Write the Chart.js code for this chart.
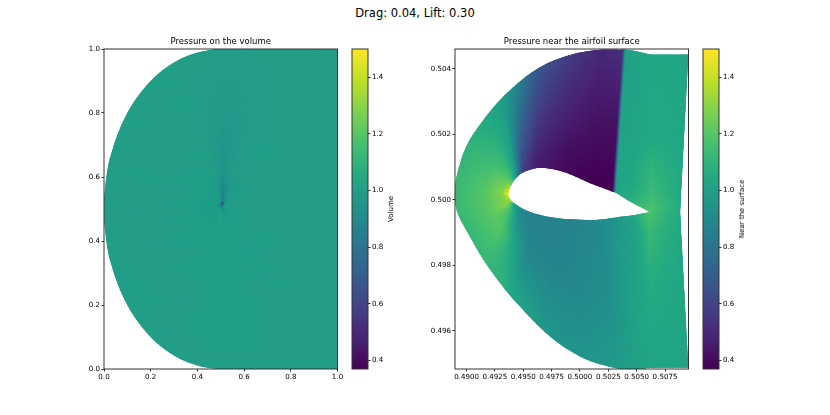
<!DOCTYPE html>
<html>
<head>
<meta charset="utf-8">
<script src="https://cdn.jsdelivr.net/npm/chart.js@4"></script>
<style>
  body { margin: 0; background: #fff; width: 830px; height: 415px; overflow: hidden; font-family: "DejaVu Sans", sans-serif; color: #000; }
  canvas { position: absolute; }
  .txt { position: absolute; white-space: nowrap; }
  #suptitle { left: 0; width: 830px; top: 6px; text-align: center; font-size: 11.5px; }
  .cbLabel { font-size: 7px; transform: translate(-50%, -50%) rotate(-90deg); }
</style>
</head>
<body>
<div id="suptitle" class="txt">Drag: 0.04, Lift: 0.30</div>
<canvas id="volumeChart" width="290" height="365" style="left:60px;top:30px"></canvas>
<canvas id="volumeBar" width="50" height="365" style="left:345px;top:30px"></canvas>
<div class="txt cbLabel" style="left:391px;top:209px">Volume</div>
<canvas id="nearChart" width="290" height="365" style="left:411px;top:30px"></canvas>
<canvas id="nearBar" width="50" height="365" style="left:696px;top:30px"></canvas>
<div class="txt cbLabel" style="left:742px;top:209px">Near the surface</div>

<script>
// colour range and viridis stops
const pMin = 0.37;
const pMax = 1.5;
const viridis = ['#440154', '#482475', '#414487', '#355f8d', '#2a788e', '#21918c', '#22a884', '#44bf70', '#7ad151', '#bddf26', '#fde725'];
const barTicks = [0.4, 0.6, 0.8, 1.0, 1.2, 1.4];

// left panel: fan of stations from the airfoil out to the domain edge
const volXTicks = [0, 0.2, 0.4, 0.6, 0.8, 1];
const volYTicks = [0, 0.2, 0.4, 0.6, 0.8, 1];
const volLevels = [0, 0.01, 0.04, 0.2, 1];
const volInnerX = 0.502;
const volInnerY = 0.508;
const volOuterX = [1, 1, 1, 0.75, 0.6, 0.51, 0.46, 0.355, 0.269, 0.197, 0.124, 0.069, 0.0257, 0.0116, 0.002, 0, 0.002, 0.0116, 0.0257, 0.069, 0.124, 0.197, 0.269, 0.355, 0.46, 0.6, 0.75, 1, 1, 1];
const volOuterY = [0.5, 0.75, 1, 1, 1, 1, 0.998, 0.978, 0.943, 0.898, 0.83, 0.753, 0.66, 0.607, 0.545, 0.5, 0.455, 0.393, 0.34, 0.247, 0.17, 0.102, 0.057, 0.022, 0.002, 0, 0, 0, 0.25, 0.5];
const volP0 = [0.75, 0.75, 0.65, 0.55, 0.42, 0.4, 0.42, 0.55, 0.65, 0.75, 0.8, 0.85, 0.9, 0.9, 0.95, 1, 1, 1.02, 1.05, 1.05, 1.05, 1.05, 1.1, 1.2, 1.2, 1, 0.9, 0.8, 0.75, 0.75];
const volP1 = [0.92, 0.92, 0.9, 0.8, 0.62, 0.5, 0.62, 0.8, 0.9, 0.92, 0.94, 0.95, 0.97, 0.97, 0.98, 1, 1, 1.01, 1.02, 1.02, 1.02, 1.02, 1.05, 1.1, 1.14, 1, 0.96, 0.94, 0.92, 0.92];
const volP2 = [1, 1, 0.99, 0.96, 0.9, 0.82, 0.9, 0.96, 0.99, 1, 1, 1, 1, 1, 1, 1, 1, 1, 1, 1, 1, 1, 1.01, 1.02, 1.03, 1.01, 1, 1, 1, 1];
const volP3 = [1, 1, 1, 0.995, 0.97, 0.95, 0.97, 0.995, 1, 1, 1, 1, 1, 1, 1, 1, 1, 1, 1, 1, 1, 1, 1, 1, 1.01, 1.01, 1, 1, 1, 1];
const volP4 = [1, 1, 1, 1, 1, 1, 1, 1, 1, 1, 1, 1, 1, 1, 1, 1, 1, 1, 1, 1, 1, 1, 1, 1, 1, 1, 1, 1, 1, 1];
const volCorners = [2, 27];

// right panel: C-mesh stations, upper wake -> nose -> lower wake
const nearXTicks = [0.49, 0.4925, 0.495, 0.4975, 0.5, 0.5025, 0.505, 0.5075];
const nearYTicks = [0.496, 0.498, 0.5, 0.502, 0.504];
const nearLevels = [0, 0.12, 0.45, 1];
const nearInnerX = [0.50883, 0.5075, 0.50618, 0.5046, 0.50308, 0.50279, 0.5009, 0.49884, 0.49737, 0.4962, 0.49488, 0.49429, 0.49398, 0.49379, 0.4937, 0.49366, 0.49376, 0.494, 0.49438, 0.49499, 0.49614, 0.49781, 0.49958, 0.50151, 0.50354, 0.50486, 0.50618, 0.5075, 0.50883];
const nearInnerY = [0.49963, 0.49963, 0.49963, 0.49991, 0.50023, 0.50026, 0.50051, 0.50082, 0.50095, 0.50097, 0.50082, 0.50064, 0.50049, 0.50037, 0.50025, 0.50017, 0.50006, 0.49995, 0.49985, 0.49972, 0.49957, 0.49945, 0.4994, 0.49939, 0.49948, 0.49954, 0.49963, 0.49963, 0.49963];
const nearOuterX = [0.50956, 0.50777, 0.50618, 0.50501, 0.50394, 0.50367, 0.50178, 0.49958, 0.49737, 0.4959, 0.49444, 0.49297, 0.4915, 0.49004, 0.48915, 0.48898, 0.48918, 0.49004, 0.4915, 0.49297, 0.49444, 0.49737, 0.50031, 0.50325, 0.50468, 0.50548, 0.50627, 0.50777, 0.50956];
const nearOuterY = [0.50444, 0.50444, 0.50444, 0.50454, 0.50459, 0.50459, 0.50459, 0.50447, 0.50421, 0.50393, 0.50354, 0.50306, 0.50245, 0.50168, 0.50077, 0.50015, 0.49962, 0.49903, 0.49816, 0.49745, 0.49684, 0.49582, 0.49516, 0.49485, 0.49482, 0.49484, 0.49487, 0.49487, 0.49487];
const nearP0 = [1.04, 1.12, 1.2, 1.1, 1.03, 0.37, 0.37, 0.39, 0.43, 0.46, 0.58, 0.98, 1.2, 1.33, 1.42, 1.5, 1.4, 1.3, 0.95, 0.88, 0.87, 0.87, 0.87, 0.9, 0.97, 1.05, 1.2, 1.1, 1.05];
const nearP1 = [1.04, 1.09, 1.15, 1.05, 1.03, 0.38, 0.38, 0.4, 0.44, 0.47, 0.62, 1, 1.16, 1.24, 1.28, 1.3, 1.28, 1.3, 1.1, 0.9, 0.87, 0.87, 0.88, 0.9, 0.98, 1.02, 1.14, 1.08, 1.04];
const nearP2 = [1.04, 1.05, 1.06, 1.03, 1.02, 0.42, 0.42, 0.46, 0.5, 0.56, 0.72, 1.02, 1.11, 1.16, 1.19, 1.2, 1.2, 1.21, 1.2, 1.05, 0.89, 0.88, 0.89, 0.92, 0.99, 1.02, 1.07, 1.05, 1.04];
const nearP3 = [1.04, 1.04, 1.04, 1.02, 1, 0.52, 0.5, 0.55, 0.62, 0.7, 0.88, 1, 1.05, 1.1, 1.12, 1.13, 1.13, 1.12, 1.12, 1.1, 1.03, 0.96, 0.95, 0.98, 1, 1.02, 1.03, 1.03, 1.03];
const nearCorners = [2, 26];

function colorFor(p) {
  const t = Math.min(1, Math.max(0, (p - pMin) / (pMax - pMin))) * (viridis.length - 1);
  const i = Math.min(viridis.length - 2, Math.floor(t));
  const f = t - i;
  const rgb = c => [1, 3, 5].map(k => parseInt(c.substr(k, 2), 16));
  const a = rgb(viridis[i]);
  const b = rgb(viridis[i + 1]);
  return `rgb(${a.map((v, k) => Math.round(v + (b[k] - v) * f)).join(',')})`;
}

// flatten stations x levels into points the scatter dataset can carry
function meshPoints(innerX, innerY, outerX, outerY, levels, rows) {
  const pts = [];
  outerX.forEach((ox, i) => {
    const ix = Array.isArray(innerX) ? innerX[i] : innerX;
    const iy = Array.isArray(innerY) ? innerY[i] : innerY;
    levels.forEach((t, l) => {
      pts.push({ x: ix + (ox - ix) * t, y: iy + (outerY[i] - iy) * t, p: rows[l][i] });
    });
  });
  return pts;
}

// unit tangent at each station of one level, zero at corners so they stay sharp
function tangents(line, corners) {
  return line.map((q, i) => {
    if (i === 0 || i === line.length - 1 || corners.includes(i)) return { x: 0, y: 0 };
    const a = line[i - 1], b = line[i + 1];
    const d1 = Math.hypot(q.x - a.x, q.y - a.y), d2 = Math.hypot(b.x - q.x, b.y - q.y);
    if (d1 < 1e-6 || d2 < 1e-6) return { x: 0, y: 0 };
    const cos = ((q.x - a.x) * (b.x - q.x) + (q.y - a.y) * (b.y - q.y)) / (d1 * d2);
    if (cos < 0.7) return { x: 0, y: 0 };
    const d = Math.hypot(b.x - a.x, b.y - a.y);
    return { x: (b.x - a.x) / d, y: (b.y - a.y) / d };
  });
}

function hermite(line, tan, i, s, k) {
  const p0 = line[i], p1 = line[i + 1];
  const len = Math.hypot(p1.x - p0.x, p1.y - p0.y);
  const s2 = s * s, s3 = s2 * s;
  return (2 * s3 - 3 * s2 + 1) * p0[k] + (s3 - 2 * s2 + s) * len * tan[i][k] + (-2 * s3 + 3 * s2) * p1[k] + (s3 - s2) * len * tan[i + 1][k];
}

// paints the mesh dataset as a smooth field, positions come from the scales
const fieldPlugin = {
  id: 'field',
  beforeDatasetsDraw(chart) {
    const ds = chart.data.datasets[0];
    const nL = ds.nLevels;
    const nS = ds.data.length / nL;
    const { ctx, chartArea: a, scales } = chart;
    const sub = 8;
    const lines = [];
    for (let l = 0; l < nL; l++) {
      const line = [];
      for (let i = 0; i < nS; i++) {
        const d = ds.data[i * nL + l];
        line.push({ x: scales.x.getPixelForValue(d.x), y: scales.y.getPixelForValue(d.y), p: d.p });
      }
      lines.push({ line, tan: tangents(line, ds.corners) });
    }
    const pos = (i, l, s, t, k) => {
      const v0 = hermite(lines[l].line, lines[l].tan, i, s, k);
      const v1 = hermite(lines[l + 1].line, lines[l + 1].tan, i, s, k);
      return v0 + (v1 - v0) * t;
    };
    const val = (i, l, s, t) => {
      const lo = lines[l].line, hi = lines[l + 1].line;
      return (lo[i].p * (1 - s) + lo[i + 1].p * s) * (1 - t) + (hi[i].p * (1 - s) + hi[i + 1].p * s) * t;
    };
    ctx.save();
    ctx.beginPath();
    ctx.rect(a.left, a.top, a.right - a.left, a.bottom - a.top);
    ctx.clip();
    // clip to the mesh outline so the cell strokes cannot bleed past it
    ctx.beginPath();
    for (let i = 0; i < nS - 1; i++) {
      for (let u = 0; u < sub; u++) {
        ctx.lineTo(pos(i, nL - 2, u / sub, 1, 'x'), pos(i, nL - 2, u / sub, 1, 'y'));
      }
    }
    ctx.lineTo(lines[nL - 1].line[nS - 1].x, lines[nL - 1].line[nS - 1].y);
    // the left panel fans from one point, so it has no hole to cut
    if (ds.hasHole) {
      for (let i = nS - 2; i >= 0; i--) {
        for (let u = sub; u > 0; u--) {
          ctx.lineTo(pos(i, 0, u / sub, 0, 'x'), pos(i, 0, u / sub, 0, 'y'));
        }
      }
      ctx.lineTo(lines[0].line[0].x, lines[0].line[0].y);
    }
    ctx.closePath();
    ctx.clip();
    ctx.lineWidth = 1.6;
    for (let i = 0; i < nS - 1; i++) {
      for (let l = 0; l < nL - 1; l++) {
        for (let u = 0; u < sub; u++) {
          for (let v = 0; v < sub; v++) {
            const s0 = u / sub, s1 = (u + 1) / sub, t0 = v / sub, t1 = (v + 1) / sub;
            const col = colorFor(val(i, l, (s0 + s1) / 2, (t0 + t1) / 2));
            ctx.fillStyle = col;
            ctx.strokeStyle = col;
            ctx.beginPath();
            ctx.moveTo(pos(i, l, s0, t0, 'x'), pos(i, l, s0, t0, 'y'));
            ctx.lineTo(pos(i, l, s1, t0, 'x'), pos(i, l, s1, t0, 'y'));
            ctx.lineTo(pos(i, l, s1, t1, 'x'), pos(i, l, s1, t1, 'y'));
            ctx.lineTo(pos(i, l, s0, t1, 'x'), pos(i, l, s0, t1, 'y'));
            ctx.closePath();
            ctx.fill();
            ctx.stroke();
          }
        }
      }
    }
    ctx.restore();
  }
};

const framePlugin = {
  id: 'frame',
  afterDraw(chart) {
    const { ctx, chartArea: a } = chart;
    ctx.save();
    ctx.strokeStyle = '#333';
    ctx.lineWidth = 1;
    ctx.strokeRect(a.left, a.top, a.right - a.left, a.bottom - a.top);
    ctx.restore();
  }
};

const tickFont = { family: 'DejaVu Sans', size: 7.1 };
const tickGrid = { drawOnChartArea: false, drawTicks: true, tickLength: 2.5, tickColor: '#333' };

function fieldChart(id, title, points, nLevels, hasHole, corners, xRange, yRange, xTicks, yTicks, xDigits, yDigits) {
  return new Chart(document.getElementById(id), {
    type: 'scatter',
    data: { datasets: [{ data: points, nLevels: nLevels, hasHole: hasHole, corners: corners, pointRadius: 0 }] },
    plugins: [fieldPlugin, framePlugin],
    options: {
      responsive: false,
      animation: false,
      events: [],
      layout: { padding: { left: 10, right: 12.5, top: 6.9, bottom: 6 } },
      plugins: {
        legend: { display: false },
        tooltip: { enabled: false },
        title: {
          display: true, text: title, color: '#000', fullSize: false,
          font: { family: 'DejaVu Sans', size: 8.5, weight: 'normal', lineHeight: 1.2 },
          padding: { top: 0, bottom: 1.9 }
        }
      },
      scales: {
        x: {
          type: 'linear', min: xRange[0], max: xRange[1],
          afterBuildTicks: s => { s.ticks = xTicks.map(v => ({ value: v })); },
          afterFit: s => { s.height = 20; },
          grid: tickGrid,
          border: { display: false },
          ticks: { font: tickFont, color: '#000', padding: 1.5, maxRotation: 0, autoSkip: false, callback: v => v.toFixed(xDigits) }
        },
        y: {
          type: 'linear', min: yRange[0], max: yRange[1],
          afterBuildTicks: s => { s.ticks = yTicks.map(v => ({ value: v })); },
          afterFit: s => { s.width = 34; },
          grid: tickGrid,
          border: { display: false },
          ticks: { font: tickFont, color: '#000', padding: 1.5, autoSkip: false, callback: v => v.toFixed(yDigits) }
        }
      }
    }
  });
}

function colorBar(id) {
  return new Chart(document.getElementById(id), {
    type: 'bar',
    data: {
      labels: [''],
      datasets: [{
        data: [[pMin, pMax]],
        barPercentage: 1,
        categoryPercentage: 1,
        backgroundColor(c) {
          const { chartArea, ctx, scales } = c.chart;
          if (!chartArea) return viridis[5];
          const g = ctx.createLinearGradient(0, scales.y.getPixelForValue(pMin), 0, scales.y.getPixelForValue(pMax));
          viridis.forEach((col, i) => g.addColorStop(i / (viridis.length - 1), col));
          return g;
        }
      }]
    },
    plugins: [framePlugin],
    options: {
      responsive: false,
      animation: false,
      events: [],
      layout: { padding: { left: 7, right: 0, top: 19, bottom: 26 } },
      plugins: { legend: { display: false }, tooltip: { enabled: false } },
      scales: {
        x: { display: false },
        y: {
          position: 'right', min: pMin, max: pMax,
          afterBuildTicks: s => { s.ticks = barTicks.map(v => ({ value: v })); },
          afterFit: s => { s.width = 27; },
          grid: tickGrid,
          border: { display: false },
          ticks: { font: tickFont, color: '#000', padding: 1.5, autoSkip: false, callback: v => v.toFixed(1) }
        }
      }
    }
  });
}

fieldChart('volumeChart', 'Pressure on the volume',
  meshPoints(volInnerX, volInnerY, volOuterX, volOuterY, volLevels, [volP0, volP1, volP2, volP3, volP4]),
  volLevels.length, false, volCorners, [0, 1], [0, 1], volXTicks, volYTicks, 1, 1);
colorBar('volumeBar');

fieldChart('nearChart', 'Pressure near the airfoil surface',
  meshPoints(nearInnerX, nearInnerY, nearOuterX, nearOuterY, nearLevels, [nearP0, nearP1, nearP2, nearP3]),
  nearLevels.length, true, nearCorners, [0.48898, 0.50957], [0.49483, 0.50461], nearXTicks, nearYTicks, 4, 3);
colorBar('nearBar');
</script>
</body>
</html>
